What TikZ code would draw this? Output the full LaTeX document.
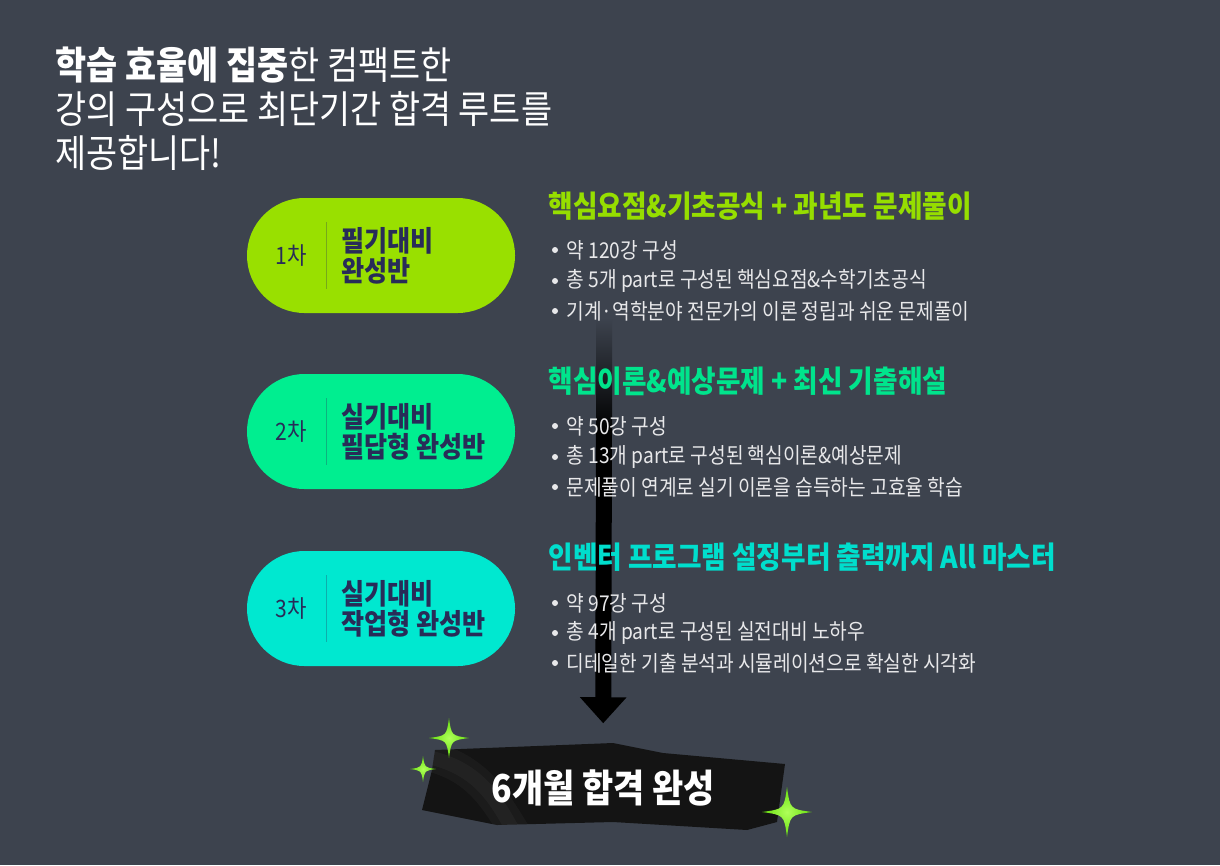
\documentclass[tikz,border=0pt]{standalone}
\usepackage{fontspec}
\setmainfont{Noto Sans CJK KR}[FakeStretch=0.88]
\usetikzlibrary{arrows.meta,positioning}
\definecolor{bgslate}{RGB}{61,67,78}
\definecolor{limegr}{RGB}{153,224,0}
\definecolor{mintgr}{RGB}{0,238,144}
\definecolor{aquagr}{RGB}{0,232,208}
\definecolor{navytxt}{RGB}{40,44,88}
\definecolor{headlime}{RGB}{150,222,0}
\definecolor{headmint}{RGB}{0,228,140}
\definecolor{headaqua}{RGB}{0,222,205}
\definecolor{itemgray}{RGB}{232,232,234}
\definecolor{tapeblk}{RGB}{20,20,20}
\definecolor{sparkgr}{RGB}{100,222,10}
\definecolor{sparkhi}{RGB}{175,255,90}
\begin{document}
\begin{tikzpicture}[x=1pt,y=-1pt,
  pill/.style={rectangle, rounded corners=57.5pt, minimum width=268pt, minimum height=115pt, inner sep=0pt},
  stagelbl/.style={text=navytxt, font=\fontsize{24}{28}\selectfont},
  coursename/.style={anchor=west, align=left, text=navytxt, font=\bfseries\fontsize{28.5}{30}\selectfont},
  headline/.style={anchor=west, font=\bfseries\fontsize{30.3}{34}\selectfont},
  bulletdot/.style={circle, fill=itemgray, inner sep=0pt, minimum size=6pt},
  itemtxt/.style={anchor=west, text=itemgray, font=\fontsize{21.8}{24}\selectfont},
  divider/.style={draw=navytxt, draw opacity=0.3, line width=1pt},
  flow/.style={line width=16pt, black, -{Triangle[width=45pt,length=26pt]}, shorten >=43pt},
  sparkle/.pic={\shade[inner color=sparkhi, outer color=sparkgr] (0,-1) .. controls (0.12,-0.12) .. (1,0) .. controls (0.12,0.12) .. (0,1) .. controls (-0.12,0.12) .. (-1,0) .. controls (-0.12,-0.12) .. (0,-1) -- cycle;}
]
\fill[bgslate] (0,0) rectangle (1220,865);
\useasboundingbox (0,0) rectangle (1220,865);
% header
\node[anchor=west, align=left, text=white, font=\fontsize{38.4}{44}\selectfont] (intro) at (52,109)
  {\textbf{학습 효율에 집중}한 컴팩트한\\강의 구성으로 최단기간 합격 루트를\\제공합니다!};
% arrow
\shade[top color=bgslate, bottom color=black] (596,318) rectangle (612,432);
\coordinate (flowtop) at (604,430);
\node[text=white, font=\bfseries\fontsize{38.5}{42}\selectfont] (goal) at (603,788) {\phantom{6개월 합격 완성}};
\draw[flow] (flowtop) -- (goal);
% stage 1
\node[pill, fill=limegr] (pill1) at (381,255.5) {};
\node[stagelbl] (stage1) at (291,256) {1차};
\draw[divider] (326,222) -- (326,289);
\node[coursename] (course1) at (338,256) {필기대비\\완성반};
\node[headline, text=headlime] (head1) at (545,206) {핵심요점\&기초공식 + 과년도 문제풀이};
\node[bulletdot] (dot11) at (555,250) {};
\node[itemtxt] (item11) at (563,250) {약 120강 구성};
\node[bulletdot] (dot12) at (555,281) {};
\node[itemtxt] (item12) at (563,281) {총 5개 part로 구성된 핵심요점\&수학기초공식};
\node[bulletdot] (dot13) at (555,311) {};
\node[itemtxt] (item13) at (563,311) {기계·역학분야 전문가의 이론 정립과 쉬운 문제풀이};
% stage 2
\node[pill, fill=mintgr] (pill2) at (381,431.5) {};
\node[stagelbl] (stage2) at (291,432) {2차};
\draw[divider] (326,398) -- (326,465);
\node[coursename] (course2) at (338,432) {실기대비\\필답형 완성반};
\node[headline, text=headmint] (head2) at (545,381) {핵심이론\&예상문제 + 최신 기출해설};
\node[bulletdot] (dot21) at (555,426) {};
\node[itemtxt] (item21) at (563,426) {약 50강 구성};
\node[bulletdot] (dot22) at (555,457) {};
\node[itemtxt] (item22) at (563,457) {총 13개 part로 구성된 핵심이론\&예상문제};
\node[bulletdot] (dot23) at (555,487) {};
\node[itemtxt] (item23) at (563,487) {문제풀이 연계로 실기 이론을 습득하는 고효율 학습};
% stage 3
\node[pill, fill=aquagr] (pill3) at (381,608.5) {};
\node[stagelbl] (stage3) at (291,609) {3차};
\draw[divider] (326,575) -- (326,642);
\node[coursename] (course3) at (338,609) {실기대비\\작업형 완성반};
\node[headline, text=headaqua] (head3) at (545,557) {인벤터 프로그램 설정부터 출력까지 All 마스터};
\node[bulletdot] (dot31) at (555,603) {};
\node[itemtxt] (item31) at (563,603) {약 97강 구성};
\node[bulletdot] (dot32) at (555,633) {};
\node[itemtxt] (item32) at (563,633) {총 4개 part로 구성된 실전대비 노하우};
\node[bulletdot] (dot33) at (555,663) {};
\node[itemtxt] (item33) at (563,663) {디테일한 기출 분석과 시뮬레이션으로 확실한 시각화};
% tape
\fill[tapeblk] (435,750) -- (613,743) -- (663,753) -- (785,764) -- (777,822) -- (747,830) -- (613,822) -- (497,825) -- (422,810) -- (432,770) -- cycle;
\begin{scope}
\clip (435,750) -- (613,743) -- (663,753) -- (785,764) -- (777,822) -- (747,830) -- (613,822) -- (497,825) -- (422,810) -- (432,770) -- cycle;
\draw[white, opacity=0.03, line width=30pt] (428,756) .. controls (478,768) and (495,800) .. (515,832);
\draw[white, opacity=0.03, line width=14pt] (432,758) .. controls (480,770) and (496,800) .. (514,832);
\end{scope}
\node[text=white, font=\bfseries\fontsize{38.5}{42}\selectfont] at (goal) {6개월 합격 완성};
% sparkles
\pic[scale=20] at (449,738) {sparkle};
\pic[scale=13] at (423,769) {sparkle};
\pic[scale=25] at (787,812) {sparkle};
\end{tikzpicture}
\end{document}
